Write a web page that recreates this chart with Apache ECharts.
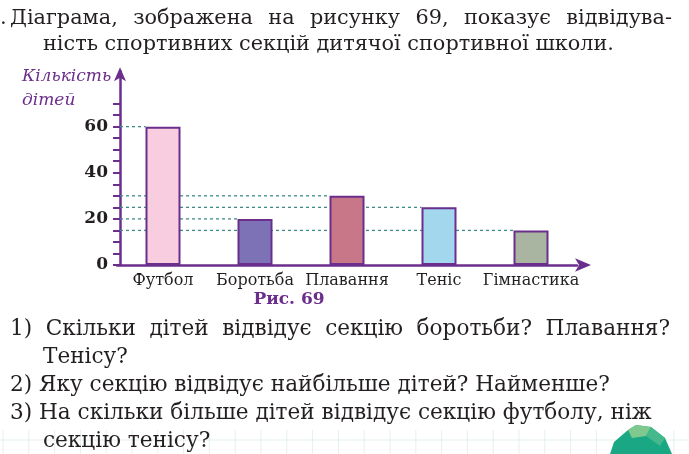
<!DOCTYPE html>
<html>
<head>
<meta charset="utf-8">
<script src="https://cdn.jsdelivr.net/npm/echarts@6/dist/echarts.min.js"></script>
<style>
  html, body { margin: 0; padding: 0; background: #fff; }
  #chart { width: 689px; height: 454px; }
</style>
</head>
<body>
<div id="chart"></div>
<script>
const categories = ['Футбол', 'Боротьба', 'Плавання', 'Теніс', 'Гімнастика']
const counts = [60, 20, 30, 25, 15]
const yLabels = [0, 20, 40, 60]
const yTicks = [0, 5, 10, 15, 20, 25, 30, 35, 40, 45, 50, 55, 60, 65, 70]
const yMax = 84

const barColors = ['#f8cde0', '#7d72b5', '#c77788', '#a2d7ee', '#a9b5a1']
const PURPLE = '#6b2e8c'
const GUIDE = '#3f8c87'
const INK = '#231f20'
const SERIF = '"DejaVu Serif", "Liberation Serif", serif'
const BAR_W = 35
const AXIS_SHIFT = 3

const titleLines = [
  'Діаграма, зображена на рисунку 69, показує відвідува-',
  'ність спортивних секцій дитячої спортивної школи.'
]
const questions = [
  '1) Скільки дітей відвідує секцію боротьби? Плавання?',
  'Тенісу?',
  '2) Яку секцію відвідує найбільше дітей? Найменше?',
  '3) На скільки більше дітей відвідує секцію футболу, ніж',
  'секцію тенісу?'
]

const chart = echarts.init(document.getElementById('chart'))
const measureCtx = document.createElement('canvas').getContext('2d')

function textEl(x, y, text, opts) {
  return {
    type: 'text', x, y, silent: true, z: 10,
    style: Object.assign({
      text, fill: INK, fontFamily: SERIF, fontSize: 21,
      verticalAlign: 'middle', align: 'left'
    }, opts || {})
  }
}

// spread words so the line fills x0..x1, like the book's justified lines
function justified(text, x0, x1, y, size) {
  measureCtx.font = size + 'px ' + SERIF
  const words = text.split(' ')
  const widths = words.map(w => measureCtx.measureText(w).width)
  const total = widths.reduce((a, b) => a + b, 0)
  const gap = (x1 - x0 - total) / (words.length - 1)
  let x = x0
  return words.map((w, i) => {
    const el = textEl(x, y, w, { fontSize: size })
    x += widths[i] + gap
    return el
  })
}

const graphics = [
  textEl(0, 19, '.', { fontSize: 21 }),
  ...justified(titleLines[0], 10, 672, 19, 20.8),
  textEl(43, 45, titleLines[1], { fontSize: 20.8 }),
  textEl(22, 77, 'Кількість', { fill: PURPLE, fontStyle: 'italic', fontSize: 17 }),
  textEl(22, 101, 'дітей', { fill: PURPLE, fontStyle: 'italic', fontSize: 17 }),
  textEl(289, 300, 'Рис. 69', { fill: PURPLE, fontWeight: 'bold', fontSize: 17, align: 'center' }),
  ...justified(questions[0], 10, 670, 329, 21.6),
  textEl(43, 357, questions[1], { fontSize: 21.6 }),
  textEl(10, 385, questions[2], { fontSize: 21.6 }),
  textEl(10, 413, questions[3], { fontSize: 21.6 }),
  textEl(43, 441, questions[4], { fontSize: 21.6 })
]

// faint squared paper at the bottom of the page
graphics.push({
  type: 'line', silent: true, z: 0,
  shape: { x1: 0, y1: 440, x2: 689, y2: 440 },
  style: { stroke: '#e4f1e8', lineWidth: 1 }
})
for (let gx = 3; gx < 689; gx += 25.8) {
  graphics.push({
    type: 'line', silent: true, z: 0,
    shape: { x1: gx, y1: 430, x2: gx, y2: 454 },
    style: { stroke: '#e4f1e8', lineWidth: 1 }
  })
}

// green page badge in the corner
graphics.push(
  {
    type: 'polygon', silent: true, z: 5,
    shape: { points: [[610, 454], [614, 442], [628, 430], [636, 425], [651, 427], [665, 438], [672, 454]] },
    style: { fill: '#1aa884' }
  },
  {
    type: 'polygon', silent: true, z: 6,
    shape: { points: [[628, 430], [636, 425], [651, 427], [646, 436], [632, 438]] },
    style: { fill: '#7fc98f' }
  },
  {
    type: 'polygon', silent: true, z: 6,
    shape: { points: [[651, 427], [665, 438], [660, 446], [646, 436]] },
    style: { fill: '#45b98c' }
  }
)

chart.setOption({
  backgroundColor: '#ffffff',
  animation: false,
  grid: { left: 117, right: 112, top: 265 - yMax * 2.306, bottom: 189 },
  xAxis: {
    type: 'category',
    data: categories,
    axisLine: {
      lineStyle: { color: PURPLE, width: 2.5 },
      symbol: ['none', 'arrow'],
      symbolSize: [10, 16],
      symbolOffset: [0, 14]
    },
    axisTick: { show: false },
    axisLabel: { interval: 0, color: INK, fontFamily: SERIF, fontSize: 16, margin: 8 }
  },
  yAxis: {
    type: 'value',
    min: 0,
    max: yMax,
    offset: -AXIS_SHIFT,
    axisLine: {
      show: true,
      lineStyle: { color: PURPLE, width: 2.5 },
      symbol: ['none', 'arrow'],
      symbolSize: [9, 14],
      symbolOffset: [0, 4]
    },
    axisTick: { show: true, length: 7, customValues: yTicks, lineStyle: { color: PURPLE, width: 2 } },
    splitLine: { show: false },
    axisLabel: {
      customValues: yLabels,
      color: INK, fontFamily: SERIF, fontSize: 17, fontWeight: 'bold', margin: 12
    }
  },
  series: [
    {
      type: 'custom',
      z: 1,
      silent: true,
      data: counts.map((v, i) => [i, v]),
      renderItem: (params, api) => {
        const p = api.coord([api.value(0), api.value(1)])
        return {
          type: 'line',
          shape: { x1: params.coordSys.x + AXIS_SHIFT, y1: p[1], x2: p[0] - BAR_W / 2, y2: p[1] },
          style: { stroke: GUIDE, lineWidth: 1.3, lineDash: [3, 3] }
        }
      }
    },
    {
      type: 'bar',
      z: 3,
      barWidth: BAR_W,
      data: counts.map((v, i) => ({
        value: v,
        itemStyle: { color: barColors[i], borderColor: PURPLE, borderWidth: 2 }
      }))
    }
  ],
  graphic: graphics
})
</script>
</body>
</html>
